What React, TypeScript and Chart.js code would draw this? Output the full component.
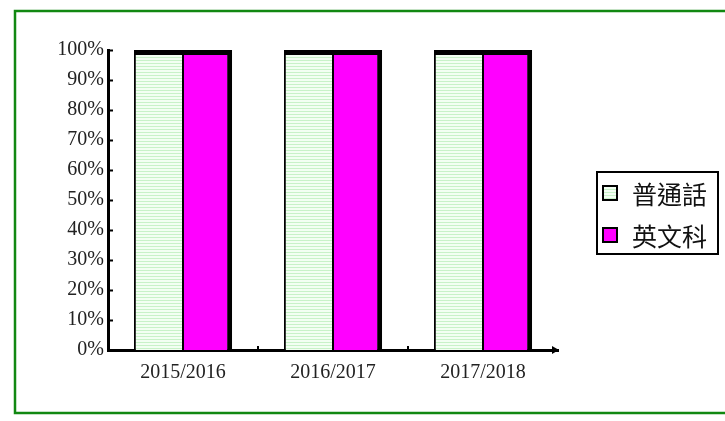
import React, { useEffect, useRef } from "react";
import { Chart, registerables } from "chart.js";

Chart.register(...registerables);

const categories = ["2015/2016", "2016/2017", "2017/2018"];
const seriesNames = ["普通話", "英文科"];
const putonghuaValues = [100, 100, 100];
const englishValues = [100, 100, 100];
const yTickValues = [0, 10, 20, 30, 40, 50, 60, 70, 80, 90, 100];

function makeStripePattern(): CanvasPattern | string {
  const c = document.createElement("canvas");
  c.width = 4;
  c.height = 3;
  const ctx = c.getContext("2d");
  if (!ctx) return "#e6fbe6";
  ctx.fillStyle = "#f2fff2";
  ctx.fillRect(0, 0, 4, 3);
  ctx.fillStyle = "#c8f2c8";
  ctx.fillRect(0, 0, 4, 1);
  return ctx.createPattern(c, "repeat") || "#e6fbe6";
}

const decorPlugin = {
  id: "decor",
  beforeDraw(chart: any) {
    const ctx = chart.ctx;
    ctx.save();
    ctx.fillStyle = "#ffffff";
    ctx.fillRect(0, 0, chart.width, chart.height);
    ctx.strokeStyle = "#118811";
    ctx.lineWidth = 2.5;
    ctx.strokeRect(15, 11, 760, 402);
    ctx.restore();
  },
  afterDraw(chart: any) {
    const ctx = chart.ctx;
    const ys = chart.scales.y;
    const xs = chart.scales.x;
    const area = chart.chartArea;
    ctx.save();
    // inward y ticks
    ctx.strokeStyle = "#000";
    ctx.lineWidth = 2;
    ys.ticks.forEach((t: any) => {
      const y = Math.round(ys.getPixelForValue(t.value)) + 0.5;
      ctx.beginPath();
      ctx.moveTo(area.left, y);
      ctx.lineTo(area.left + 5, y);
      ctx.stroke();
    });
    // category boundary marks on x axis
    for (let i = 0; i < categories.length - 1; i++) {
      const x = Math.round(xs.getPixelForValue(i + 0.5));
      ctx.fillStyle = "#000";
      ctx.fillRect(x - 1, area.bottom - 4, 2, 4);
    }
    // arrow head
    ctx.fillStyle = "#000";
    ctx.beginPath();
    ctx.moveTo(area.right - 6, area.bottom - 4);
    ctx.lineTo(area.right + 1, area.bottom);
    ctx.lineTo(area.right - 6, area.bottom + 4);
    ctx.closePath();
    ctx.fill();

    // legend
    const lx = 597, ly = 172, lw = 121, lh = 82;
    ctx.strokeStyle = "#000";
    ctx.lineWidth = 2;
    ctx.strokeRect(lx, ly, lw, lh);
    const rowY = [193, 235];
    chart.data.datasets.forEach((ds: any, i: number) => {
      const cy = rowY[i];
      ctx.fillStyle = ds.backgroundColor;
      ctx.fillRect(603, cy - 7, 14, 14);
      ctx.lineWidth = 2;
      ctx.strokeStyle = "#000";
      ctx.strokeRect(603, cy - 7, 14, 14);
      ctx.fillStyle = "#111";
      ctx.font = '25px "Noto Sans CJK TC", "Noto Sans CJK SC", sans-serif';
      ctx.textBaseline = "middle";
      ctx.textAlign = "left";
      ctx.fillText(ds.label, 632, cy + 1);
    });
    ctx.restore();
  },
};

export default function App() {
  const ref = useRef<HTMLCanvasElement | null>(null);

  useEffect(() => {
    if (!ref.current) return;
    const pattern = makeStripePattern();
    const chart = new Chart(ref.current, {
      type: "bar",
      data: {
        labels: categories,
        datasets: [
          {
            label: seriesNames[0],
            data: putonghuaValues,
            backgroundColor: pattern as any,
            borderColor: "#000",
            borderWidth: { left: 2, top: 5, right: 1, bottom: 0 } as any,
            borderSkipped: "start",
            categoryPercentage: 0.655,
            barPercentage: 1,
          },
          {
            label: seriesNames[1],
            data: englishValues,
            backgroundColor: "#ff00ff",
            borderColor: "#000",
            borderWidth: { left: 1, top: 5, right: 5, bottom: 0 } as any,
            borderSkipped: "start",
            categoryPercentage: 0.655,
            barPercentage: 1,
          },
        ],
      },
      options: {
        animation: false,
        responsive: false,
        maintainAspectRatio: false,
        layout: { padding: { left: 0, top: 50, right: 167, bottom: 0 } },
        plugins: {
          legend: { display: false },
          tooltip: { enabled: false },
        },
        scales: {
          x: {
            grid: { display: false, drawTicks: false },
            border: { display: true, color: "#000", width: 3 },
            ticks: {
              color: "#222",
              font: { family: '"Liberation Serif", "DejaVu Serif", serif', size: 20 },
              padding: 11,
            },
            afterFit: (s: any) => {
              s.height = 71;
            },
          },
          y: {
            min: 0,
            max: 100,
            grid: { display: false, drawTicks: false },
            border: { display: true, color: "#000", width: 3 },
            afterBuildTicks: (s: any) => {
              s.ticks = yTickValues.map((v) => ({ value: v }));
            },
            ticks: {
              color: "#222",
              font: { family: '"Liberation Serif", "DejaVu Serif", serif', size: 20 },
              padding: 4,
              callback: (v: any) => `${v}%`,
            },
            afterFit: (s: any) => {
              s.width = 108;
            },
          },
        },
      },
      plugins: [decorPlugin],
    });
    return () => chart.destroy();
  }, []);

  return (
    <div style={{ position: "absolute", left: 0, top: 0, width: 725, height: 421 }}>
      <canvas ref={ref} width={725} height={421} style={{ display: "block", width: 725, height: 421 }} />
    </div>
  );
}
